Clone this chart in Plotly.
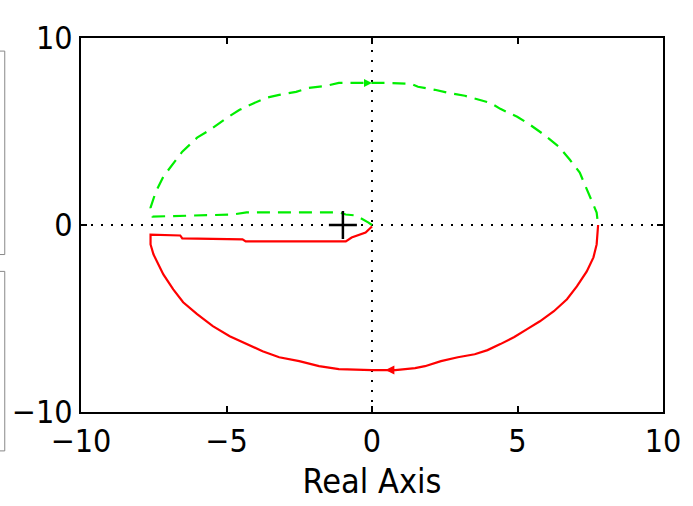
import plotly.graph_objects as go

# Upper branch (green, dashed): origin -> inner line -> left -> top arc -> right crossing
green_re = [0.0, -0.12, -0.56, -0.90, -1.14, -3.42, -4.31, -4.79, -6.59, -7.54, -7.61,
            -7.44, -7.17, -6.87, -6.52, -6.01, -5.57, -4.99, -4.55, -4.10, -3.63,
            -3.19, -2.61, -2.17, -1.58, -1.14, -0.46, 0.0, 0.56, 1.35, 1.58, 2.16,
            2.61, 3.19, 3.53, 4.07, 4.41, 4.99, 5.43, 5.91, 6.42, 6.80, 7.14, 7.31,
            7.55, 7.72, 7.77]
green_im = [0.0, 0.13, 0.51, 0.56, 0.67, 0.67, 0.67, 0.56, 0.51, 0.45, 0.93,
            1.73, 2.59, 3.23, 3.92, 4.67, 5.09, 5.73, 6.16, 6.49, 6.80,
            6.96, 7.12, 7.33, 7.44, 7.60, 7.60, 7.60, 7.60, 7.55, 7.39, 7.23,
            7.07, 6.91, 6.75, 6.53, 6.21, 5.79, 5.36, 4.83, 4.19, 3.49, 2.80, 2.16,
            1.36, 0.67, 0.0]

# Lower branch (red, solid): right crossing -> bottom arc -> left -> inner line -> origin
red_re = [7.77, 7.76, 7.72, 7.61, 7.38, 7.04, 6.70, 6.25, 5.77, 5.33, 4.89, 4.41,
          3.97, 3.53, 2.95, 2.37, 1.82, 1.48, 0.80, 0.46, 0.0, -1.14, -1.82,
          -2.50, -3.19, -3.76, -4.31, -4.89, -5.47, -6.01, -6.49, -6.83, -7.17,
          -7.51, -7.61, -7.61, -6.59, -6.52, -4.45, -4.34, -0.90, -0.70, -0.22, 0.0]
red_im = [0.0, -0.24, -1.04, -1.73, -2.48, -3.28, -3.97, -4.61, -5.15, -5.57, -5.99,
          -6.37, -6.69, -6.91, -7.07, -7.28, -7.55, -7.65, -7.76, -7.76, -7.76,
          -7.71, -7.55, -7.28, -7.07, -6.75, -6.37, -5.95, -5.41, -4.77, -4.13,
          -3.44, -2.64, -1.57, -1.04, -0.51, -0.56, -0.72, -0.77, -0.88, -0.88,
          -0.67, -0.40, -0.08]

crit_re, crit_im = [-1.0], [0.0]
arrow_green = ([0.0], [7.6])
arrow_red = ([0.46], [-7.76])

tick_vals = [-10, -5, 0, 5, 10]
tick_text = ["\u221210", "\u22125", "0", "5", "10"]
ytick_vals = [-10, 0, 10]
ytick_text = ["\u221210", "0", "10"]

FONT = "Liberation Sans Narrow, Arial Narrow, DejaVu Sans Condensed, sans-serif"

fig = go.Figure()
fig.add_trace(go.Scatter(x=green_re, y=green_im, mode="lines",
                         line=dict(color="#00ee00", width=2.2, dash="13px,8px"),
                         showlegend=False))
fig.add_trace(go.Scatter(x=red_re, y=red_im, mode="lines",
                         line=dict(color="#ff0000", width=2.2),
                         showlegend=False))
fig.add_trace(go.Scatter(x=crit_re, y=crit_im, mode="markers",
                         marker=dict(symbol="cross-thin", size=20,
                                     line=dict(color="black", width=2.5)),
                         showlegend=False))
fig.add_trace(go.Scatter(x=arrow_green[0], y=arrow_green[1], mode="markers",
                         marker=dict(symbol="arrow-right", size=8, color="#00ee00"),
                         showlegend=False))
fig.add_trace(go.Scatter(x=arrow_red[0], y=arrow_red[1], mode="markers",
                         marker=dict(symbol="arrow-left", size=9, color="#ff0000"),
                         showlegend=False))

shapes = [
    dict(type="line", xref="x domain", yref="y", x0=0, x1=1, y0=0, y1=0,
         line=dict(color="black", width=2, dash="2px,8px"), layer="below"),
    dict(type="line", xref="x", yref="y domain", x0=0, x1=0, y0=0, y1=1,
         line=dict(color="black", width=2, dash="2px,8px"), layer="below"),
    # sliver of neighbouring panel at the far left
    dict(type="rect", xref="paper", yref="paper", x0=-0.2, x1=-0.131, y0=0.421, y1=0.965,
         line=dict(color="#888888", width=1)),
    dict(type="rect", xref="paper", yref="paper", x0=-0.2, x1=-0.131, y0=-0.104, y1=0.376,
         line=dict(color="#888888", width=1)),
]

fig.update_layout(
    width=693, height=506,
    margin=dict(l=80, r=26, t=38, b=93),
    paper_bgcolor="white", plot_bgcolor="white",
    font=dict(family=FONT, size=32, color="black"),
    shapes=shapes,
    xaxis=dict(range=[-10, 10], tickvals=tick_vals, ticktext=tick_text,
               showgrid=False, zeroline=False, showline=True, mirror="ticks",
               linecolor="black", linewidth=2, ticks="inside", ticklen=6,
               tickwidth=1.5, tickcolor="black",
               title=dict(text="Real Axis", font=dict(family=FONT, size=34), standoff=10)),
    yaxis=dict(range=[-10, 10], tickvals=ytick_vals, ticktext=ytick_text,
               showgrid=False, zeroline=False, showline=True, mirror="ticks",
               linecolor="black", linewidth=2, ticks="inside", ticklen=6,
               tickwidth=1.5, tickcolor="black"),
)

fig.write_html("out.html")
